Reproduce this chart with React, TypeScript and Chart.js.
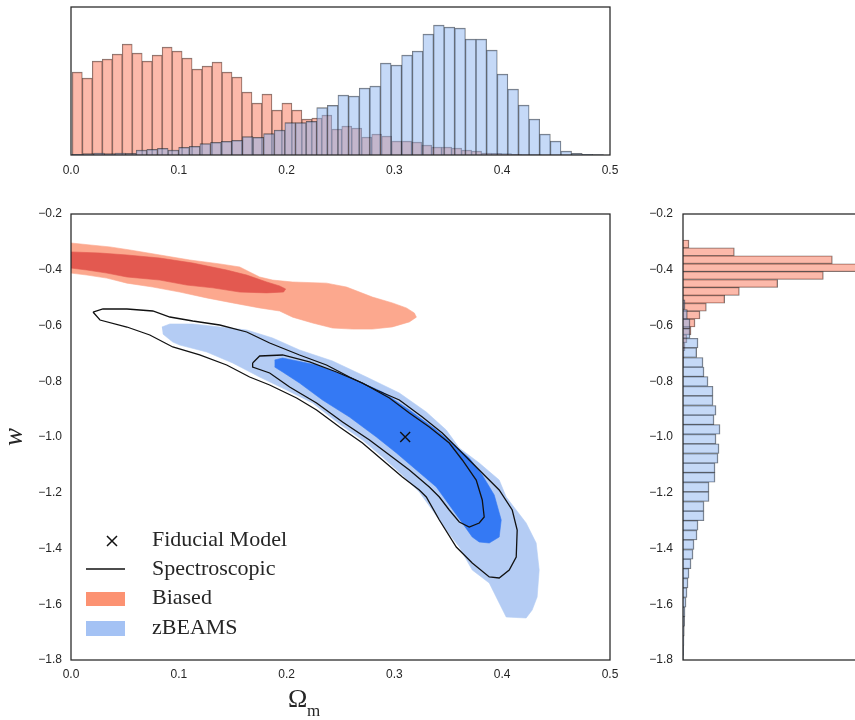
import React, { useEffect, useRef } from 'react';
import { Chart, registerables } from 'chart.js';

Chart.register(...registerables);

// ---------- tick labels ----------
const OM_TICKS = [0, 0.1, 0.2, 0.3, 0.4, 0.5];
const W_TICKS = [-1.8, -1.6, -1.4, -1.2, -1.0, -0.8, -0.6, -0.4, -0.2];

// ---------- legend ----------
const LEGEND_LABELS = ['Fiducial Model', 'Spectroscopic', 'Biased', 'zBEAMS'];

// ---------- marginal histogram of Omega_m ----------
const OM_BIASED_BIN_START = 0.0012;
const OM_BIASED_BIN_WIDTH = 0.00926;
const OM_BIASED_COUNTS = [83, 77, 94, 96, 101, 111, 102, 94, 100, 108, 104, 97, 86, 89, 93, 83, 78, 63, 52, 61, 45, 52, 45, 36, 37, 40, 26, 29, 27, 18, 21, 19, 14, 14, 13, 10, 8, 8, 7, 5, 4, 2, 1.7, 1.3, 0.7, 0.5, 0.3, 0.2, 0.1, 0.1];
const OM_ZBEAMS_BIN_START = 0.0014;
const OM_ZBEAMS_BIN_WIDTH = 0.00985;
const OM_ZBEAMS_COUNTS = [0.7, 1.3, 2, 1.3, 2, 1.7, 5, 5.7, 6.7, 5, 7.7, 8.7, 11.3, 12.7, 13.7, 14.7, 18.3, 17.7, 21.3, 25, 32.3, 32.3, 33.7, 47.3, 49.7, 60, 59, 67, 69, 92, 90, 100, 104, 121, 130, 128, 127, 116, 116, 105, 81, 66, 50, 36, 21, 14, 4, 1.7, 0.7, 0.3];

// ---------- marginal histogram of w ----------
const W_BIASED_BIN_START = -0.2933;
const W_BIASED_BIN_WIDTH = -0.02834;
const W_BIASED_COUNTS = [6, 51.3, 149.3, 185, 140.3, 94.7, 56.3, 41.7, 23.3, 17, 12, 8, 4, 2, 1, 0.5];
const W_ZBEAMS_BIN_START = -0.5081;
const W_ZBEAMS_BIN_WIDTH = -0.03444;
const W_ZBEAMS_COUNTS = [2, 4.3, 7, 7, 15, 13.7, 20, 21, 25, 30, 30, 33, 31, 37, 33, 36, 35, 32, 32, 26, 26, 21, 21, 15, 14, 11, 10, 8, 6, 5, 4, 3, 2, 1.7, 1.3, 1, 0.7, 0.5];

// ---------- 2D contours (Omega_m, w) ----------
const BIASED_95 = [
  [0, -0.304], [0.0176, -0.311], [0.0361, -0.318], [0.0546, -0.329], [0.0824, -0.347], [0.1102, -0.365],
  [0.138, -0.379], [0.1565, -0.39], [0.1657, -0.408], [0.175, -0.426], [0.187, -0.437], [0.2056, -0.444],
  [0.237, -0.448], [0.2556, -0.462], [0.2676, -0.48], [0.2796, -0.498], [0.2981, -0.519], [0.3111, -0.537],
  [0.3185, -0.555], [0.3204, -0.57], [0.3139, -0.587], [0.2981, -0.605], [0.2796, -0.613], [0.2611, -0.613],
  [0.2426, -0.609], [0.2241, -0.591], [0.2056, -0.57], [0.1935, -0.548], [0.175, -0.537], [0.15, -0.519],
  [0.1259, -0.501], [0.1009, -0.48], [0.0759, -0.462], [0.0519, -0.448], [0.0333, -0.43], [0.0148, -0.419],
  [0, -0.412],
];
const BIASED_68 = [
  [0, -0.336], [0.0269, -0.34], [0.0519, -0.347], [0.0824, -0.358], [0.113, -0.376], [0.1444, -0.401],
  [0.163, -0.419], [0.1815, -0.444], [0.1935, -0.458], [0.1991, -0.469], [0.1972, -0.48], [0.1815, -0.483],
  [0.1565, -0.48], [0.1315, -0.465], [0.1074, -0.455], [0.0824, -0.437], [0.0519, -0.426], [0.0333, -0.412],
  [0.0148, -0.401], [0, -0.394],
];
const ZBEAMS_95 = [
  [0.0843, -0.6054], [0.0917, -0.5946], [0.113, -0.5946], [0.138, -0.6054], [0.163, -0.6161], [0.187, -0.6448],
  [0.212, -0.6879], [0.2426, -0.7274], [0.2741, -0.7848], [0.3046, -0.8422], [0.3296, -0.9103], [0.3481, -0.9749],
  [0.3602, -1.0395], [0.3787, -1.0933], [0.3972, -1.1543], [0.4037, -1.2152], [0.4222, -1.3085], [0.4315, -1.3803],
  [0.4343, -1.4771], [0.4324, -1.574], [0.4278, -1.6206], [0.4222, -1.6493], [0.4037, -1.6457], [0.3972, -1.5955],
  [0.388, -1.5238], [0.3722, -1.4771], [0.3602, -1.3946], [0.3481, -1.3336], [0.3352, -1.2619], [0.3231, -1.1973],
  [0.3074, -1.1363], [0.2889, -1.0717], [0.2704, -1.0108], [0.2491, -0.9534], [0.2241, -0.878], [0.2, -0.8314],
  [0.175, -0.7848], [0.15, -0.7345], [0.1259, -0.6951], [0.1009, -0.67], [0.0944, -0.6592], [0.0852, -0.6305],
];
const ZBEAMS_68 = [
  [0.1889, -0.7238], [0.1963, -0.7166], [0.2278, -0.7417], [0.2583, -0.7848], [0.2889, -0.8386], [0.3139, -0.9031],
  [0.3389, -0.9749], [0.3574, -1.0359], [0.3694, -1.0753], [0.3815, -1.1363], [0.3926, -1.2081], [0.3991, -1.2978],
  [0.3972, -1.3587], [0.388, -1.3803], [0.3787, -1.3767], [0.3722, -1.3587], [0.363, -1.3085], [0.3509, -1.244],
  [0.3389, -1.1794], [0.3204, -1.1184], [0.3019, -1.0574], [0.2833, -1.0], [0.2583, -0.9283], [0.2333, -0.8673],
  [0.212, -0.8063], [0.1963, -0.7668], [0.1889, -0.7489],
];
const SPEC_95 = [
  [0.0204, -0.5516], [0.0296, -0.5408], [0.0519, -0.5408], [0.0759, -0.548], [0.0917, -0.5695], [0.113, -0.5839],
  [0.138, -0.5982], [0.163, -0.6233], [0.1843, -0.6628], [0.212, -0.7058], [0.237, -0.7417], [0.2583, -0.7848],
  [0.2833, -0.8314], [0.3046, -0.8673], [0.3259, -0.9283], [0.3444, -0.9857], [0.3574, -1.0359], [0.3694, -1.0825],
  [0.3833, -1.1363], [0.3972, -1.1901], [0.4093, -1.2619], [0.4139, -1.3336], [0.413, -1.4305], [0.4065, -1.4771],
  [0.3972, -1.5058], [0.388, -1.5022], [0.3722, -1.452], [0.3574, -1.3946], [0.3417, -1.2978], [0.3296, -1.2152],
  [0.3231, -1.1901], [0.3074, -1.1435], [0.2889, -1.0825], [0.2704, -1.0215], [0.2491, -0.9641], [0.2278, -0.9031],
  [0.2093, -0.8601], [0.1843, -0.8135], [0.1657, -0.7848], [0.1444, -0.7417], [0.1194, -0.7058], [0.0944, -0.6771],
  [0.0731, -0.6341], [0.0519, -0.6054], [0.0269, -0.5803],
];
const SPEC_68 = [
  [0.1685, -0.7345], [0.175, -0.7094], [0.1963, -0.7058], [0.2213, -0.7309], [0.2463, -0.7668], [0.2704, -0.8063],
  [0.2954, -0.8601], [0.3139, -0.9139], [0.3324, -0.9641], [0.3509, -1.0215], [0.363, -1.0825], [0.3759, -1.1543],
  [0.3815, -1.226], [0.3833, -1.287], [0.3787, -1.3085], [0.3694, -1.3229], [0.3602, -1.3049], [0.3509, -1.2619],
  [0.3417, -1.2152], [0.3324, -1.1794], [0.3139, -1.1184], [0.2954, -1.0646], [0.2769, -1.0108], [0.2519, -0.9462],
  [0.2278, -0.878], [0.2028, -0.8206], [0.1843, -0.7704], [0.1685, -0.7489],
];
const FIDUCIAL = [[0.31, -1.0]];

// ---------- styles ----------
const C_TEXT = '#262626';
const C_HIST_RED = 'rgba(250,128,100,0.55)';
const C_HIST_BLUE = 'rgba(140,180,240,0.5)';
const C_HIST_EDGE = 'rgba(20,20,20,0.6)';
const C_BIASED_95 = '#fca88e';
const C_BIASED_68 = '#e35950';
const C_ZBEAMS_95 = '#b4ccf4';
const C_ZBEAMS_68 = '#3479f4';
const C_LEG_BIASED = '#fc9272';
const C_LEG_ZBEAMS = '#a4c2f4';
const TICK_FONT = { family: "'Liberation Sans', Arial, sans-serif", size: 12 };
const SERIF = "'Liberation Serif', 'Times New Roman', serif";

const fmt = (v: number) => {
  const s = Math.abs(v).toFixed(1);
  return v < -1e-9 ? '\u2212' + s : s;
};
const centers = (start: number, width: number, n: number) =>
  Array.from({ length: n }, (_, i) => start + width * (i + 0.5));
const pts = (arr: number[][]) => arr.map(([x, y]) => ({ x, y }));

const framePlugin = {
  id: 'frame',
  afterDatasetsDraw(chart: any) {
    const { ctx, chartArea: a } = chart;
    ctx.save();
    ctx.strokeStyle = C_TEXT;
    ctx.lineWidth = 1.25;
    ctx.strokeRect(a.left, a.top, a.right - a.left, a.bottom - a.top);
    ctx.restore();
  },
};

const mainDecorPlugin = {
  id: 'mainDecor',
  afterDraw(chart: any) {
    const { ctx } = chart;
    ctx.save();
    // axis titles
    ctx.fillStyle = C_TEXT;
    ctx.textBaseline = 'alphabetic';
    ctx.textAlign = 'left';
    ctx.font = `26px ${SERIF}`;
    ctx.fillText('\u03A9', 288, 517);
    ctx.font = `17px ${SERIF}`;
    ctx.fillText('m', 307, 526);
    ctx.save();
    ctx.translate(22, 247);
    ctx.rotate(-Math.PI / 2);
    ctx.textAlign = 'center';
    ctx.font = `italic 27px ${SERIF}`;
    ctx.fillText('w', 0, 0);
    ctx.restore();
    // legend
    ctx.strokeStyle = '#111';
    ctx.lineWidth = 1.5;
    ctx.beginPath();
    ctx.moveTo(107, 346); ctx.lineTo(117, 356);
    ctx.moveTo(117, 346); ctx.lineTo(107, 356);
    ctx.stroke();
    ctx.lineWidth = 1.3;
    ctx.beginPath();
    ctx.moveTo(86, 379); ctx.lineTo(125, 379);
    ctx.stroke();
    ctx.fillStyle = C_LEG_BIASED;
    ctx.fillRect(86, 402, 39, 14);
    ctx.fillStyle = C_LEG_ZBEAMS;
    ctx.fillRect(86, 431, 39, 15);
    ctx.fillStyle = C_TEXT;
    ctx.font = `22px ${SERIF}`;
    ctx.textBaseline = 'middle';
    const ys = [350, 379, 408, 438];
    LEGEND_LABELS.forEach((t, i) => ctx.fillText(t, 152, ys[i]));
    ctx.restore();
  },
};

const baseOpts = {
  responsive: false,
  maintainAspectRatio: false,
  animation: false as const,
  events: [] as any[],
  plugins: { legend: { display: false }, tooltip: { enabled: false } },
};

function tickScale(values: number[], min: number, max: number, padding: number, fit: (s: any) => void) {
  return {
    type: 'linear',
    min,
    max,
    offset: false,
    afterBuildTicks: (s: any) => { s.ticks = values.map((v) => ({ value: v })); },
    afterFit: fit,
    grid: { display: false, drawTicks: false },
    border: { display: false },
    ticks: { callback: (v: any) => fmt(Number(v)), font: TICK_FONT, color: C_TEXT, autoSkip: false, maxRotation: 0, padding },
  };
}

export default function App() {
  const topRef = useRef<HTMLCanvasElement>(null);
  const mainRef = useRef<HTMLCanvasElement>(null);
  const sideRef = useRef<HTMLCanvasElement>(null);

  useEffect(() => {
    const charts: Chart[] = [];
    const barStyle = {
      borderColor: C_HIST_EDGE,
      categoryPercentage: 1,
      barPercentage: 1,
      grouped: false,
    };

    // ---- top histogram ----
    const omRedX = centers(OM_BIASED_BIN_START, OM_BIASED_BIN_WIDTH, OM_BIASED_COUNTS.length);
    const omBlueX = centers(OM_ZBEAMS_BIN_START, OM_ZBEAMS_BIN_WIDTH, OM_ZBEAMS_COUNTS.length);
    charts.push(new Chart(topRef.current!, {
      type: 'bar',
      data: {
        datasets: [
          { ...barStyle, data: OM_BIASED_COUNTS.map((c, i) => ({ x: omRedX[i], y: c })), backgroundColor: C_HIST_RED, xAxisID: 'x', order: 2,
            borderWidth: { top: 0.8, left: 0.6, right: 0.6, bottom: 0 } },
          { ...barStyle, data: OM_ZBEAMS_COUNTS.map((c, i) => ({ x: omBlueX[i], y: c })), backgroundColor: C_HIST_BLUE, xAxisID: 'x2', order: 1,
            borderWidth: { top: 0.8, left: 0.6, right: 0.6, bottom: 0 } },
        ],
      } as any,
      options: {
        ...baseOpts,
        layout: { padding: { left: 71, right: 90, top: 7, bottom: 0 } },
        scales: {
          x: tickScale(OM_TICKS, 0, 0.5, 8, (s: any) => { s.height = 35; }),
          x2: { type: 'linear', display: false, min: 0, max: 0.5, offset: false },
          y: { type: 'linear', display: false, min: 0, max: 148 },
        },
      } as any,
      plugins: [framePlugin],
    }));

    // ---- main contour plot ----
    const fillDs = (arr: number[][], color: string, order: number) => ({
      type: 'line', data: pts(arr), fill: 'shape', backgroundColor: color, borderColor: color,
      borderWidth: 0.6, pointRadius: 0, tension: 0, order,
    });
    const lineDs = (arr: number[][], order: number) => ({
      type: 'line', data: pts([...arr, arr[0]]), fill: false, borderColor: '#111',
      borderWidth: 1.3, pointRadius: 0, tension: 0, order,
    });
    charts.push(new Chart(mainRef.current!, {
      type: 'line',
      data: {
        datasets: [
          fillDs(BIASED_95, C_BIASED_95, 10),
          fillDs(BIASED_68, C_BIASED_68, 9),
          fillDs(ZBEAMS_95, C_ZBEAMS_95, 8),
          fillDs(ZBEAMS_68, C_ZBEAMS_68, 7),
          lineDs(SPEC_95, 6),
          lineDs(SPEC_68, 5),
          { type: 'scatter', data: pts(FIDUCIAL), pointStyle: 'crossRot', pointRadius: 7, borderColor: '#111',
            backgroundColor: '#111', borderWidth: 1.4, showLine: false, order: 1 },
        ],
      } as any,
      options: {
        ...baseOpts,
        layout: { padding: { left: 0, right: 30, top: 24, bottom: 0 } },
        scales: {
          x: tickScale(OM_TICKS, 0, 0.5, 7, (s: any) => { s.height = 60; }),
          y: tickScale(W_TICKS, -1.8, -0.2, 9, (s: any) => { s.width = 71; }),
        },
      } as any,
      plugins: [framePlugin, mainDecorPlugin],
    }));

    // ---- side histogram ----
    const wRedY = centers(W_BIASED_BIN_START, W_BIASED_BIN_WIDTH, W_BIASED_COUNTS.length);
    const wBlueY = centers(W_ZBEAMS_BIN_START, W_ZBEAMS_BIN_WIDTH, W_ZBEAMS_COUNTS.length);
    charts.push(new Chart(sideRef.current!, {
      type: 'bar',
      data: {
        datasets: [
          { ...barStyle, data: W_BIASED_COUNTS.map((c, i) => ({ x: c, y: wRedY[i] })), backgroundColor: C_HIST_RED, yAxisID: 'y', order: 2,
            borderWidth: { top: 0.6, bottom: 0.6, right: 0.8, left: 0 } },
          { ...barStyle, data: W_ZBEAMS_COUNTS.map((c, i) => ({ x: c, y: wBlueY[i] })), backgroundColor: C_HIST_BLUE, yAxisID: 'y2', order: 1,
            borderWidth: { top: 0.6, bottom: 0.6, right: 0.8, left: 0 } },
        ],
      } as any,
      options: {
        ...baseOpts,
        indexAxis: 'y',
        layout: { padding: { left: 0, right: 13, top: 24, bottom: 60 } },
        scales: {
          x: { type: 'linear', display: false, min: 0, max: 174, offset: false },
          y: tickScale(W_TICKS, -1.8, -0.2, 10, (s: any) => { s.width = 53; }),
          y2: { type: 'linear', display: false, min: -1.8, max: -0.2, offset: false },
        },
      } as any,
      plugins: [framePlugin],
    }));

    return () => charts.forEach((c) => c.destroy());
  }, []);

  const abs = (left: number, top: number) => ({ position: 'absolute' as const, left, top, display: 'block' });
  return (
    <div style={{ position: 'absolute', left: 0, top: 0, width: 855, height: 720, overflow: 'hidden', background: '#fff' }}>
      <canvas ref={topRef} width={700} height={190} style={abs(0, 0)} />
      <canvas ref={mainRef} width={640} height={530} style={abs(0, 190)} />
      <canvas ref={sideRef} width={240} height={530} style={abs(630, 190)} />
    </div>
  );
}
